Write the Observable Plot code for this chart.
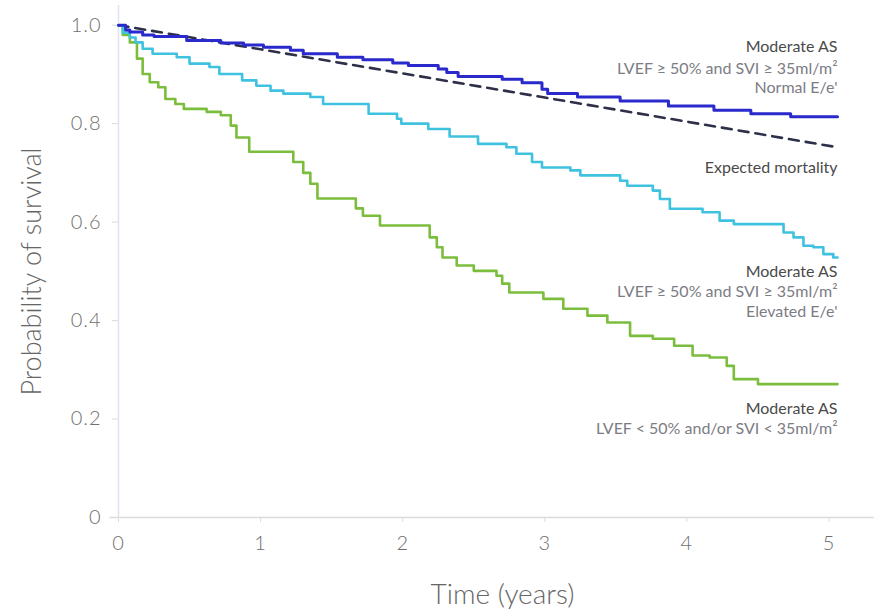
<!DOCTYPE html>
<html><head><meta charset="utf-8">
<script src="https://cdn.jsdelivr.net/npm/d3@7"></script>
<script src="https://cdn.jsdelivr.net/npm/@observablehq/plot@0.6"></script>
<style>
html,body{margin:0;padding:0;background:#fff;}
#chart{width:874px;height:612px;overflow:hidden;}
g[aria-label="annotations"] text{letter-spacing:0.4px;}
g[aria-label="x-title"] text{letter-spacing:2px;}
g[aria-label="y-axis tick label"] text, g[aria-label="x-axis tick label"] text{letter-spacing:1px;}
</style>
</head><body><div id="chart"></div>
<script>
// ---- tick labels ----
const xTicks = [0, 1, 2, 3, 4, 5];
const xTickLabels = ["0", "1", "2", "3", "4", "5"];
const yTicks = [0, 0.2, 0.4, 0.6, 0.8, 1.0];
const yTickLabels = ["0", "0.2", "0.4", "0.6", "0.8", "1.0"];

// ---- Moderate AS, LVEF >= 50% and SVI >= 35, Normal E/e' ----
const normalTime = [0, 0.05, 0.08, 0.17, 0.25, 0.48, 0.72, 0.88, 1.02, 1.21, 1.30, 1.54, 1.72, 1.93, 2.04, 2.25, 2.31, 2.39, 2.70, 2.84, 2.98, 3.02, 3.23, 3.53, 3.87, 4.19, 4.45, 4.73, 5.06];
const normalSurv = [1.0, 0.990, 0.986, 0.980, 0.977, 0.969, 0.964, 0.960, 0.955, 0.949, 0.942, 0.935, 0.930, 0.923, 0.918, 0.911, 0.904, 0.896, 0.890, 0.883, 0.870, 0.861, 0.854, 0.846, 0.836, 0.827, 0.820, 0.814, 0.814];

// ---- Moderate AS, LVEF >= 50% and SVI >= 35, Elevated E/e' ----
const elevatedTime = [0, 0.03, 0.08, 0.12, 0.17, 0.24, 0.41, 0.50, 0.64, 0.71, 0.87, 0.97, 1.07, 1.16, 1.35, 1.44, 1.76, 1.96, 1.99, 2.18, 2.33, 2.53, 2.73, 2.80, 2.91, 2.98, 3.18, 3.25, 3.53, 3.58, 3.76, 3.81, 3.88, 4.11, 4.23, 4.33, 4.68, 4.75, 4.82, 4.89, 4.96, 5.03, 5.06];
const elevatedSurv = [1.0, 0.985, 0.975, 0.965, 0.952, 0.942, 0.935, 0.922, 0.915, 0.901, 0.888, 0.877, 0.867, 0.861, 0.854, 0.840, 0.820, 0.810, 0.800, 0.789, 0.774, 0.759, 0.752, 0.739, 0.722, 0.711, 0.705, 0.695, 0.684, 0.674, 0.664, 0.647, 0.627, 0.620, 0.603, 0.596, 0.579, 0.569, 0.552, 0.549, 0.535, 0.528, 0.528];

// ---- Moderate AS, LVEF < 50% and/or SVI < 35 ----
const reducedTime = [0, 0.03, 0.08, 0.13, 0.17, 0.22, 0.28, 0.33, 0.40, 0.46, 0.62, 0.72, 0.79, 0.83, 0.92, 1.23, 1.30, 1.35, 1.40, 1.67, 1.72, 1.84, 2.19, 2.24, 2.28, 2.38, 2.50, 2.66, 2.70, 2.75, 2.99, 3.13, 3.30, 3.44, 3.60, 3.76, 3.91, 4.04, 4.16, 4.28, 4.33, 4.50, 5.06];
const reducedSurv = [1.0, 0.980, 0.965, 0.932, 0.901, 0.884, 0.874, 0.850, 0.840, 0.830, 0.824, 0.817, 0.796, 0.772, 0.743, 0.722, 0.700, 0.678, 0.648, 0.628, 0.613, 0.593, 0.569, 0.549, 0.528, 0.512, 0.501, 0.491, 0.475, 0.457, 0.444, 0.424, 0.410, 0.396, 0.369, 0.363, 0.349, 0.329, 0.325, 0.308, 0.281, 0.271, 0.271];

// ---- Expected mortality (dashed) ----
const expectedTime = [0, 1, 2, 3, 4, 5.06];
const expectedSurv = [1.0, 0.951, 0.902, 0.853, 0.804, 0.752];

// ---- annotation text ----
const labelLines = [
  "Moderate AS", "LVEF \u2265 50% and SVI \u2265 35ml/m\u00b2", "Normal E/e'",
  "Expected mortality",
  "Moderate AS", "LVEF \u2265 50% and SVI \u2265 35ml/m\u00b2", "Elevated E/e'",
  "Moderate AS", "LVEF < 50% and/or SVI < 35ml/m\u00b2"
];
const labelY = [0.955, 0.912, 0.872, 0.711, 0.499, 0.458, 0.418, 0.221, 0.180];
const labelBold = [true, false, false, true, true, false, false, true, false];

const toRows = (ts, ss) => ts.map((t, i) => ({t, s: ss[i]}));
const normal = toRows(normalTime, normalSurv);
const elevated = toRows(elevatedTime, elevatedSurv);
const reduced = toRows(reducedTime, reducedSurv);
const expected = toRows(expectedTime, expectedSurv);
const labels = labelLines.map((text, i) => ({text, y: labelY[i], bold: labelBold[i]}));

const axisGrey = "#dcdcdc";
const plot = Plot.plot({
  width: 874,
  height: 612,
  marginLeft: 118,
  marginRight: 0,
  marginTop: 5,
  marginBottom: 95,
  x: {domain: [0, 5.32]},
  y: {domain: [0, 1.04]},
  style: {fontFamily: "Lato, 'Open Sans', sans-serif", background: "#fff"},
  marks: [
    Plot.ruleY([0], {x1: -0.06, x2: 5.32, stroke: axisGrey, strokeWidth: 1.5}),
    Plot.ruleX([0], {y1: 0, y2: 1.04, stroke: "#dfe3f0", strokeWidth: 1.5}),
    Plot.axisY({ticks: yTicks, tickFormat: d => yTickLabels[yTicks.indexOf(d)], tickSize: 6, tickPadding: 11,
      fontSize: 20, fontWeight: 300, fill: "#6f6f6f", stroke: axisGrey, label: null}),
    Plot.axisX({ticks: xTicks, tickFormat: d => xTickLabels[xTicks.indexOf(d)], tickSize: 5, tickPadding: 13,
      fontSize: 20, fontWeight: 300, fill: "#6f6f6f", stroke: axisGrey, label: null}),
    Plot.text(["Probability of survival"], {frameAnchor: "left", textAnchor: "middle", rotate: -90, dx: -86, dy: 10,
      fontSize: 27, fontWeight: 300, fill: "#666", ariaLabel: "y-title"}),
    Plot.text(["Time (years)"], {frameAnchor: "bottom", textAnchor: "middle", dx: 6, dy: 78, lineAnchor: "middle",
      fontSize: 28, fontWeight: 300, fill: "#666", ariaLabel: "x-title"}),
    Plot.line(expected, {x: "t", y: "s", stroke: "#2d3048", strokeWidth: 2.6, strokeDasharray: "10,7"}),
    Plot.line(reduced, {x: "t", y: "s", curve: "step-after", stroke: "#7bbd3c", strokeWidth: 2.6}),
    Plot.line(elevated, {x: "t", y: "s", curve: "step-after", stroke: "#3fc2df", strokeWidth: 2.6}),
    Plot.line(normal, {x: "t", y: "s", curve: "step-after", stroke: "#2929cc", strokeWidth: 3}),
    Plot.text(labels, {x: () => 5.06, y: "y", text: "text", textAnchor: "end", fontSize: 16,
      fontWeight: d => d.bold ? 700 : 400, fill: d => d.bold ? "#4a4a4a" : "#7c7c84", ariaLabel: "annotations"})
  ]
});
document.getElementById("chart").appendChild(plot);
</script>
</body></html>
